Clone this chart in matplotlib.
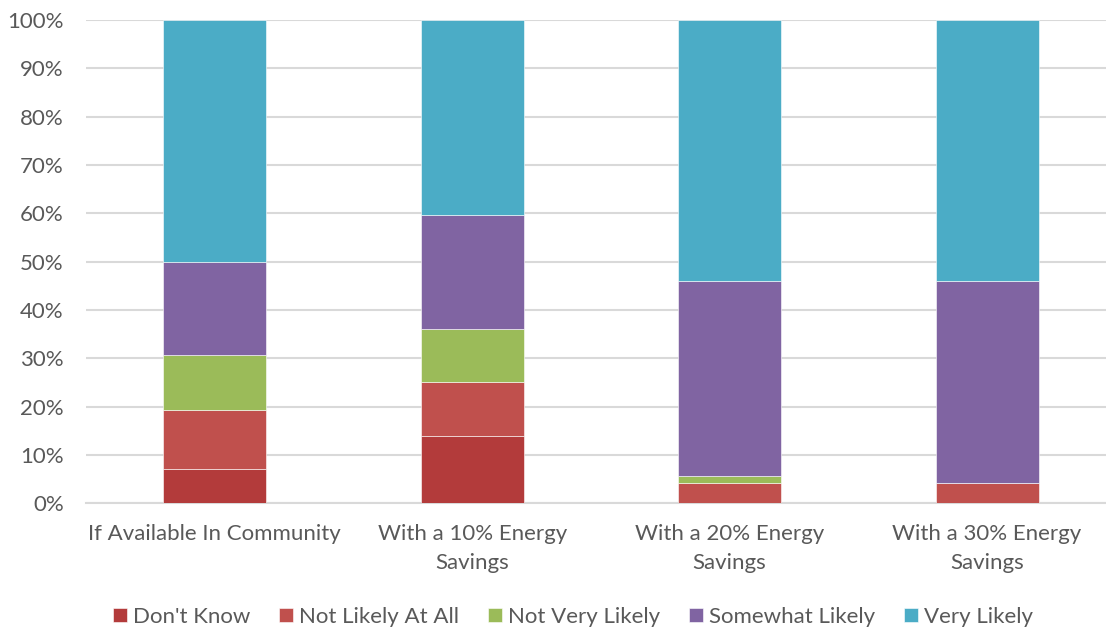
import numpy as np
import matplotlib.pyplot as plt

plt.rcParams['font.family'] = ['Lato', 'DejaVu Sans']

categories = ['If Available In Community', 'With a 10% Energy\nSavings',
              'With a 20% Energy\nSavings', 'With a 30% Energy\nSavings']
series = ["Don't Know", 'Not Likely At All', 'Not Very Likely', 'Somewhat Likely', 'Very Likely']
dont_know = [7.0, 13.9, 0.0, 0.0]
not_likely = [12.4, 11.1, 4.1, 4.2]
not_very = [11.2, 11.1, 1.5, 0.0]
somewhat = [19.4, 23.6, 40.3, 41.7]
very = [50.0, 40.3, 54.1, 54.1]
colors = ['#B33B3B', '#C0504D', '#9BBB59', '#8064A2', '#4BACC6']

fig = plt.figure(figsize=(11.06, 6.27), dpi=100)
ax = fig.add_axes([86 / 1106, 1 - 503.3 / 627, 1020 / 1106, 483.3 / 627])

x = np.arange(len(categories))
bottom = np.zeros(len(categories))
for name, vals, c in zip(series, [dont_know, not_likely, not_very, somewhat, very], colors):
    ax.bar(x, vals, 0.4, bottom=bottom, color=c, label=name,
           edgecolor='white', linewidth=0.4, zorder=3)
    bottom += np.array(vals)

ax.set_xlim(-0.5, 3.5 - 9.75 / 257.5)
ax.set_ylim(0, 100)
ax.set_yticks(np.arange(0, 101, 10))
ax.set_yticklabels([f'{v}%' for v in range(0, 101, 10)])
ax.set_xticks(x)
ax.set_xticklabels(categories, linespacing=1.55)
ax.tick_params(axis='both', length=0, labelsize=16, colors='#595959')
ax.tick_params(axis='x', pad=15)
ax.tick_params(axis='y', pad=16)
ax.grid(axis='y', color='#D9D9D9', linewidth=1.5, zorder=0)
for s in ['top', 'right', 'left']:
    ax.spines[s].set_visible(False)
ax.spines['bottom'].set_color('#D9D9D9')
ax.spines['bottom'].set_linewidth(1.5)

fig.legend(loc='center', bbox_to_anchor=(573 / 1106, 1 - 617 / 627), ncol=5,
           frameon=False, fontsize=16, handlelength=0.62, handleheight=0.62,
           handletextpad=0.28, columnspacing=1.3, labelcolor='#595959')

fig.savefig('out.png', dpi=100)
